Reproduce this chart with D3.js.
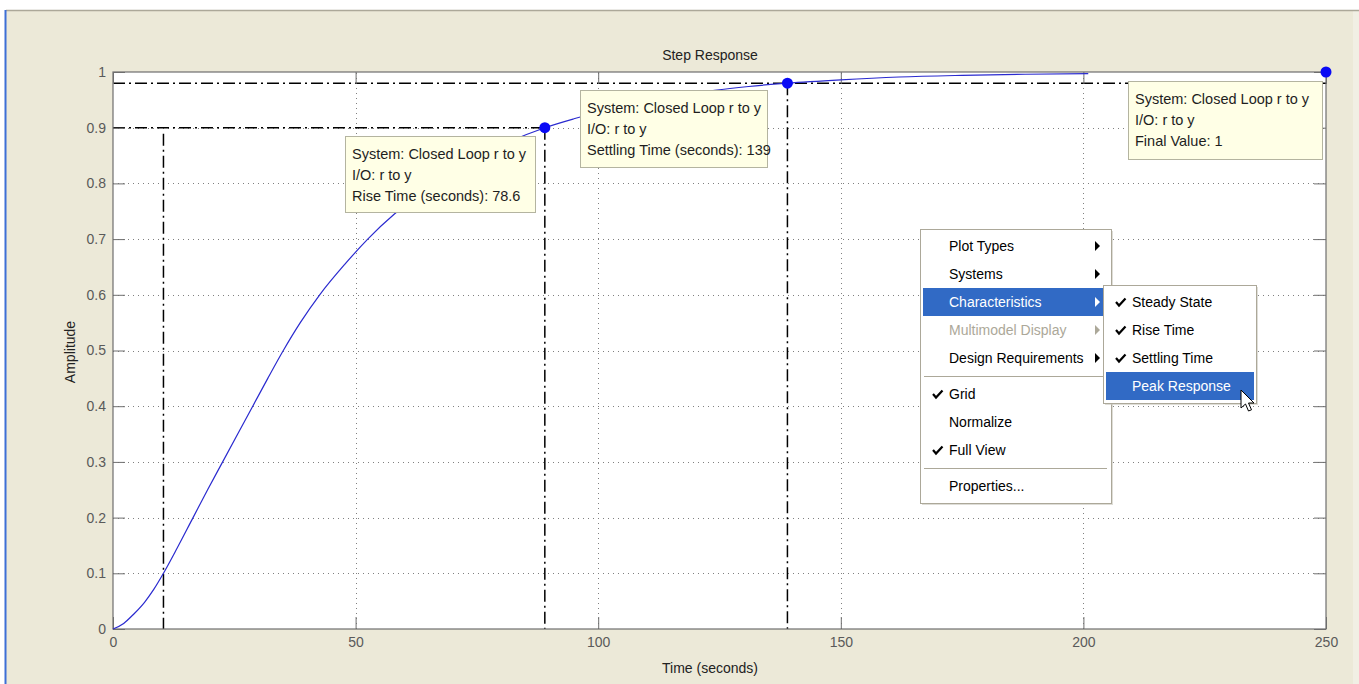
<!DOCTYPE html>
<html>
<head>
<meta charset="utf-8">
<script src="https://cdn.jsdelivr.net/npm/d3@7"></script>
<style>
  html, body { margin: 0; padding: 0; background: #ffffff; }
  svg { display: block; }
  text { font-family: "Liberation Sans", Arial, sans-serif; }
</style>
</head>
<body>
<svg id="chart" width="1359" height="684"></svg>
<script>
// Step response of the closed loop r -> y
const timeSec = [0, 2.2, 4.3, 6.5, 8.4, 10.4, 12.9, 16.5, 19.5, 22.6, 28.8, 31.9, 35.1, 38.6, 42.6, 47.8, 52.5, 58, 64, 70, 76, 82,
                 89, 95, 101, 108, 116, 124, 131, 139, 150, 162, 175, 188, 201];
const amplitude = [0, 0.01, 0.027, 0.048, 0.071, 0.1, 0.14, 0.2, 0.25, 0.3, 0.4, 0.45, 0.5, 0.55, 0.6, 0.655, 0.7, 0.745, 0.785, 0.82, 0.85, 0.876,
                   0.9, 0.916, 0.93, 0.943, 0.956, 0.967, 0.974, 0.98, 0.986, 0.991, 0.994, 0.996, 0.997];

// Axis ticks
const xTicks = [0, 50, 100, 150, 200, 250];
const yTicks = [0, 0.1, 0.2, 0.3, 0.4, 0.5, 0.6, 0.7, 0.8, 0.9, 1];

// Response characteristics
const riseStart = 10.4, riseEnd = 89, riseLevel = 0.1, riseTop = 0.9, riseTime = 78.6;
const settleTime = 139, settleLevel = 0.98;
const finalTime = 250, finalValue = 1;

// Data tip contents
const tipRise = ["System: Closed Loop r to y", "I/O: r to y", "Rise Time (seconds): " + riseTime];
const tipSettle = ["System: Closed Loop r to y", "I/O: r to y", "Settling Time (seconds): " + settleTime];
const tipFinal = ["System: Closed Loop r to y", "I/O: r to y", "Final Value: " + finalValue];

// Context menu entries
const menuItems = [
  { label: "Plot Types", arrow: true },
  { label: "Systems", arrow: true },
  { label: "Characteristics", arrow: true, active: true },
  { label: "Multimodel Display", arrow: true, disabled: true },
  { label: "Design Requirements", arrow: true },
  { sep: true },
  { label: "Grid", check: true },
  { label: "Normalize" },
  { label: "Full View", check: true },
  { sep: true },
  { label: "Properties..." }
];
const subItems = [
  { label: "Steady State", check: true },
  { label: "Rise Time", check: true },
  { label: "Settling Time", check: true },
  { label: "Peak Response", active: true }
];

const svg = d3.select("#chart");
const W = 1359, H = 684;

// Window frame
svg.append("rect").attr("x", 0).attr("y", 0).attr("width", W).attr("height", H).attr("fill", "#ffffff");
svg.append("rect").attr("x", 6).attr("y", 10).attr("width", W - 6).attr("height", H - 10).attr("fill", "#ECE9D8");
svg.append("rect").attr("x", 1353).attr("y", 10).attr("width", 6).attr("height", H - 10).attr("fill", "#F1EFE4");
svg.append("line").attr("x1", 6).attr("x2", W).attr("y1", 10.5).attr("y2", 10.5).attr("stroke", "#ACA899").attr("stroke-width", 1.5);
svg.append("line").attr("x1", 5.5).attr("x2", 5.5).attr("y1", 10).attr("y2", H).attr("stroke", "#3D6FD6").attr("stroke-width", 2);

const x = d3.scaleLinear().domain([0, 250]).range([113, 1326]);
const y = d3.scaleLinear().domain([0, 1]).range([629, 72]);

// Axes area
svg.append("rect")
  .attr("x", x(0)).attr("y", y(1))
  .attr("width", x(250) - x(0)).attr("height", y(0) - y(1))
  .attr("fill", "#ffffff");

// Dotted grid
const grid = svg.append("g").attr("stroke", "#808080").attr("stroke-width", 1).attr("stroke-dasharray", "1,4");
grid.selectAll("line.gx").data(xTicks.filter(d => d > 0 && d < 250)).join("line")
  .attr("x1", d => Math.round(x(d)) + 0.5).attr("x2", d => Math.round(x(d)) + 0.5)
  .attr("y1", y(0)).attr("y2", y(1));
grid.selectAll("line.gy").data(yTicks.filter(d => d > 0 && d < 1)).join("line")
  .attr("y1", d => Math.round(y(d)) + 0.5).attr("y2", d => Math.round(y(d)) + 0.5)
  .attr("x1", x(0)).attr("x2", x(250));

// Characteristic markers (dash-dot)
const dd = svg.append("g").attr("stroke", "#000").attr("stroke-width", 1.5).attr("stroke-dasharray", "12,4,2,4").attr("fill", "none");
dd.append("line").attr("x1", x(0)).attr("x2", x(riseEnd)).attr("y1", y(riseTop)).attr("y2", y(riseTop));
dd.append("line").attr("x1", x(0)).attr("x2", x(250)).attr("y1", y(settleLevel)).attr("y2", y(settleLevel));
dd.append("line").attr("x1", x(riseStart)).attr("x2", x(riseStart)).attr("y1", y(riseTop) + 6).attr("y2", y(0));
dd.append("line").attr("x1", x(riseEnd)).attr("x2", x(riseEnd)).attr("y1", y(riseTop)).attr("y2", y(0));
dd.append("line").attr("x1", x(settleTime)).attr("x2", x(settleTime)).attr("y1", y(settleLevel)).attr("y2", y(0));

// Axes
const axisColor = "#6E6E6E";
function styleAxis(g, showText) {
  g.select(".domain").remove();
  g.selectAll(".tick line").attr("stroke", axisColor);
  g.selectAll(".tick text")
    .attr("fill", "#5A5A5A")
    .style("font-size", "14px")
    .style("font-family", "'Liberation Sans', Arial, sans-serif")
    .style("display", showText ? null : "none");
}
const fmt = d3.format(".1~f");
svg.append("g").attr("transform", `translate(${x(0)},0)`)
  .call(d3.axisLeft(y).tickValues(yTicks).tickFormat(fmt).tickSizeInner(-12).tickSizeOuter(0).tickPadding(7))
  .call(g => styleAxis(g, true));
svg.append("g").attr("transform", `translate(${x(250)},0)`)
  .call(d3.axisRight(y).tickValues(yTicks).tickSizeInner(-12).tickSizeOuter(0))
  .call(g => styleAxis(g, false));
svg.append("g").attr("transform", `translate(0,${y(0)})`)
  .call(d3.axisBottom(x).tickValues(xTicks).tickFormat(d3.format("d")).tickSizeInner(-12).tickSizeOuter(0).tickPadding(8))
  .call(g => styleAxis(g, true));
svg.append("g").attr("transform", `translate(0,${y(1)})`)
  .call(d3.axisTop(x).tickValues(xTicks).tickSizeInner(-12).tickSizeOuter(0))
  .call(g => styleAxis(g, false));

svg.append("rect")
  .attr("x", x(0)).attr("y", y(1))
  .attr("width", x(250) - x(0)).attr("height", y(0) - y(1))
  .attr("fill", "none").attr("stroke", axisColor).attr("stroke-width", 1.2);

// Response curve
const line = d3.line().x((d, i) => x(timeSec[i])).y(d => y(d)).curve(d3.curveMonotoneX);
svg.append("path").datum(amplitude)
  .attr("d", line)
  .attr("fill", "none").attr("stroke", "#2A2ACF").attr("stroke-width", 1.2);

// Characteristic points
const pts = [[riseEnd, riseTop], [settleTime, settleLevel], [finalTime, finalValue]];
svg.selectAll("circle.pt").data(pts).join("circle")
  .attr("cx", d => x(d[0])).attr("cy", d => y(d[1])).attr("r", 5.5)
  .attr("fill", "#0A0AF5");

// Titles
svg.append("text").attr("x", 710).attr("y", 60).attr("text-anchor", "middle")
  .style("font-size", "14px").attr("fill", "#222").text("Step Response");
svg.append("text").attr("x", 710).attr("y", 673).attr("text-anchor", "middle")
  .style("font-size", "14px").attr("fill", "#222").text("Time (seconds)");
svg.append("text").attr("transform", "translate(75,352) rotate(-90)").attr("text-anchor", "middle")
  .style("font-size", "14px").attr("fill", "#222").text("Amplitude");

// Data tips
function dataTip(x0, y0, w, h, lines) {
  const g = svg.append("g");
  g.append("rect").attr("x", x0 + 0.5).attr("y", y0 + 0.5).attr("width", w).attr("height", h)
    .attr("fill", "#FFFFE6").attr("stroke", "#B4B4A0").attr("stroke-width", 1);
  g.selectAll("text").data(lines).join("text")
    .attr("x", x0 + 7).attr("y", (d, i) => y0 + 23 + i * 21)
    .style("font-size", "14.5px").attr("fill", "#1E1E1E").text(d => d);
}
dataTip(345, 136, 190, 76, tipRise);
dataTip(580, 90, 187, 77, tipSettle);
dataTip(1128, 81, 194, 78, tipFinal);

// Context menu
const rowH = 28, sepH = 4;
function menu(x0, y0, w, items, itemLeft, textX, arrowX) {
  const g = svg.append("g");
  let cy = y0 + 3;
  const rows = items.map(it => {
    const r = { it, y: cy, h: it.sep ? sepH * 2 : rowH };
    cy += r.h;
    return r;
  });
  const h = cy - y0 + 3;
  g.append("rect").attr("x", x0 + 2).attr("y", y0 + 2).attr("width", w).attr("height", h).attr("fill", "#C8C6BC").attr("opacity", 0.6);
  g.append("rect").attr("x", x0 + 0.5).attr("y", y0 + 0.5).attr("width", w).attr("height", h)
    .attr("fill", "#FFFFFF").attr("stroke", "#ACA899");
  rows.forEach(r => {
    const it = r.it;
    if (it.sep) {
      g.append("line").attr("x1", x0 + 4).attr("x2", x0 + w - 4)
        .attr("y1", r.y + sepH + 0.5).attr("y2", r.y + sepH + 0.5).attr("stroke", "#ACA899");
      return;
    }
    if (it.active) {
      g.append("rect").attr("x", x0 + itemLeft).attr("y", r.y).attr("width", w - itemLeft * 2 + 1).attr("height", rowH)
        .attr("fill", "#316AC5");
    }
    const col = it.active ? "#FFFFFF" : it.disabled ? "#ACA899" : "#000000";
    g.append("text").attr("x", textX).attr("y", r.y + rowH / 2 + 5)
      .style("font-size", "14px").attr("fill", col).text(it.label);
    if (it.check) {
      g.append("path")
        .attr("d", `M${textX - 16},${r.y + 14} l3,3.5 l6.5,-7`)
        .attr("fill", "none").attr("stroke", col).attr("stroke-width", 2.2);
    }
    if (it.arrow) {
      g.append("path")
        .attr("d", `M${arrowX},${r.y + 9} l5,5 l-5,5 Z`)
        .attr("fill", col);
    }
  });
}
menu(920, 229, 191, menuItems, 3, 949, 1095);
menu(1103, 285, 153, subItems, 3, 1132, null);

// Mouse pointer
svg.append("path")
  .attr("transform", "translate(1241,390)")
  .attr("d", "M0,0 L0,18 L4.5,14 L7.5,21 L10.5,19.8 L7.5,13 L13,13 Z")
  .attr("fill", "#ffffff").attr("stroke", "#000").attr("stroke-width", 1);
</script>
</body>
</html>
